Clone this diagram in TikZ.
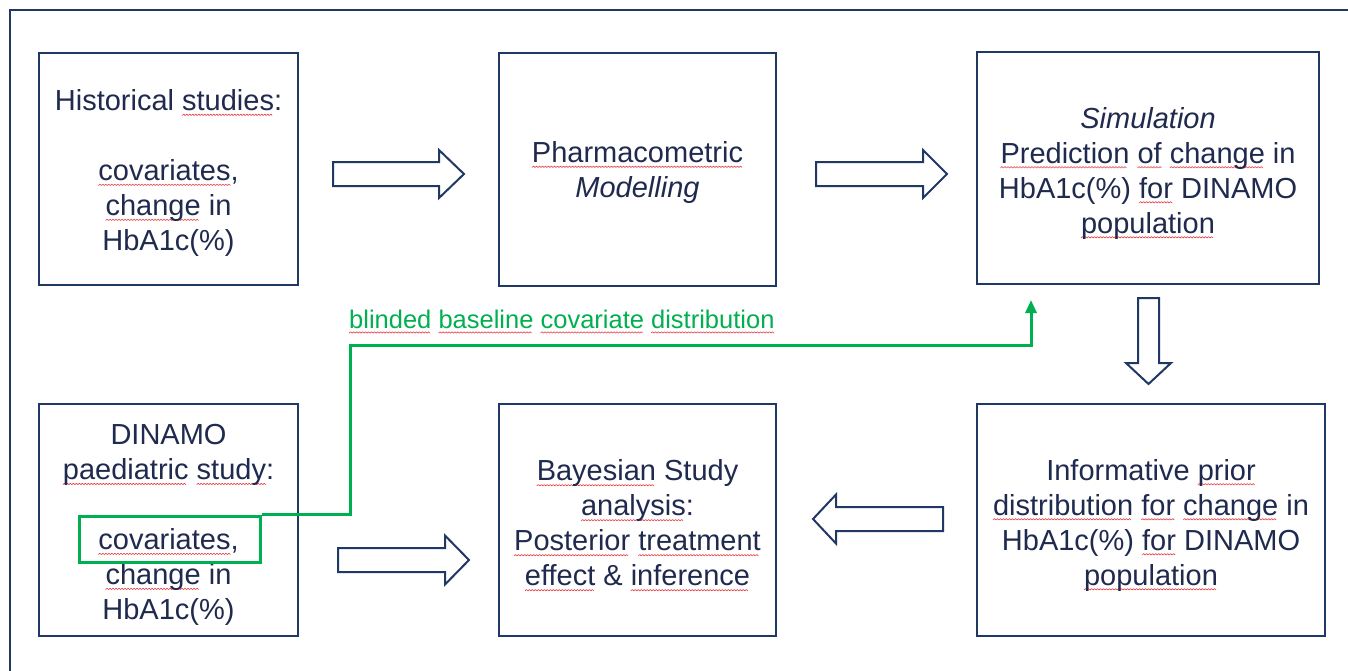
\documentclass[tikz,border=0pt]{standalone}
\usepackage{fontspec}
\setmainfont{Liberation Sans}
\usetikzlibrary{arrows.meta,calc}
\definecolor{navy}{HTML}{1F3864}
\definecolor{txt}{HTML}{1F2A4E}
\definecolor{grn}{HTML}{00B050}
\definecolor{sqred}{HTML}{E8383D}
\newsavebox\wavebox
\newsavebox\wordbox
\newcommand\sq[1]{\leavevmode\sbox\wordbox{#1}\rlap{\raisebox{-5pt}[0pt][0pt]{\hbox to \wd\wordbox{\leaders\copy\wavebox\hfill}}}\usebox\wordbox}
\begin{document}
\sbox\wavebox{\pgfpicture
 \pgfpathrectangle{\pgfpointorigin}{\pgfpoint{3pt}{1.4pt}}\pgfusepath{use as bounding box}%
 \pgfsetlinewidth{0.6pt}\pgfsetstrokecolor{sqred}\pgfsetroundjoin
 \pgfpathmoveto{\pgfpointorigin}\pgfpathlineto{\pgfpoint{1.5pt}{1.4pt}}\pgfpathlineto{\pgfpoint{3pt}{0pt}}\pgfusepath{stroke}%
\endpgfpicture}%
\begin{tikzpicture}[x=1pt,y=-1pt,
  box/.style={draw=navy, line width=2.5pt, rectangle, inner sep=0pt},
  boxtext/.style={align=center, text=txt, font=\fontsize{29}{35}\selectfont, inner sep=0pt},
  blk/.style={draw=navy, line width=2pt, fill=white, line join=miter},
  gline/.style={draw=grn, line width=3pt}]
\useasboundingbox (0,0) rectangle (1348,670);
\clip (0,0) rectangle (1348,670);
\fill[white] (0,0) rectangle (1348,670);
\draw[navy, line width=2pt] (10,10) rectangle (1400,720);

\node[box, minimum width=259pt, minimum height=232pt] (hist) at (168.5,169) {};
\node[boxtext] (histT) at ($(hist.center)+(0,4)$)
  {Historical \sq{studies}:\\[35pt]\sq{covariates},\\\sq{change} in\\HbA1c(\%)};
\node[box, minimum width=277pt, minimum height=233pt] (pharm) at (637.5,169.5) {};
\node[boxtext] (pharmT) at ($(pharm.center)+(0,3)$)
  {\sq{Pharmacometric}\\\textit{Modelling}};
\node[box, minimum width=342pt, minimum height=232pt] (sim) at (1148,168) {};
\node[boxtext] (simT) at ($(sim.center)+(0,5)$)
  {\textit{Simulation}\\\sq{Prediction} \sq{of} \sq{change} in\\HbA1c(\%) \sq{for} DINAMO\\\sq{population}};
\node[box, minimum width=259pt, minimum height=232pt] (din) at (168.5,520) {};
\node[boxtext] (dinT) at ($(din.center)+(0,5)$)
  {DINAMO\\\sq{paediatric} \sq{study}:\\[35pt]\sq{covariates},\\\sq{change} in\\HbA1c(\%)};
\node[box, minimum width=277pt, minimum height=232pt] (bay) at (637.5,520) {};
\node[boxtext] (bayT) at ($(bay.center)+(0,3)$)
  {\sq{Bayesian} Study\\\sq{analysis}:\\\sq{Posterior} \sq{treatment}\\\sq{effect} \& \sq{inference}};
\node[box, minimum width=348pt, minimum height=232pt] (prior) at (1151,520) {};
\node[boxtext] (priorT) at ($(prior.center)+(0,5)$)
  {Informative \sq{prior}\\\sq{distribution} \sq{for} \sq{change} in\\HbA1c(\%) \sq{for} DINAMO\\\sq{population}};

% block arrows
\draw[blk] (333,162)--(439,162)--(439,150)--(464,174)--(439,198)--(439,186)--(333,186)--cycle;
\draw[blk] (816,162)--(923,162)--(923,150)--(947,174)--(923,198)--(923,186)--(816,186)--cycle;
\draw[blk] (1138,298)--(1159,298)--(1159,363)--(1171,363)--(1148.5,384)--(1126,363)--(1138,363)--cycle;
\draw[blk] (943,507)--(836,507)--(836,494.5)--(813,519)--(836,543.5)--(836,531)--(943,531)--cycle;
\draw[blk] (338,548)--(445,548)--(445,535.5)--(469,560)--(445,584.5)--(445,572)--(338,572)--cycle;

% green highlight and connector
\node[draw=grn, line width=3pt, minimum width=181pt, minimum height=46pt, inner sep=0pt] (cov) at (169.5,539) {};
\coordinate (gbend) at (350,345);
\coordinate (gtip) at (1031,300);
\draw[gline, -{Triangle[length=13pt,width=11pt]}] (cov.north east) -| (gbend) -| (gtip);
\node[anchor=west, text=grn, font=\fontsize{25.5}{30}\selectfont, inner sep=0pt] (lbl) at (349,319)
  {\sq{blinded} \sq{baseline} \sq{covariate} \sq{distribution}};
\end{tikzpicture}
\end{document}
